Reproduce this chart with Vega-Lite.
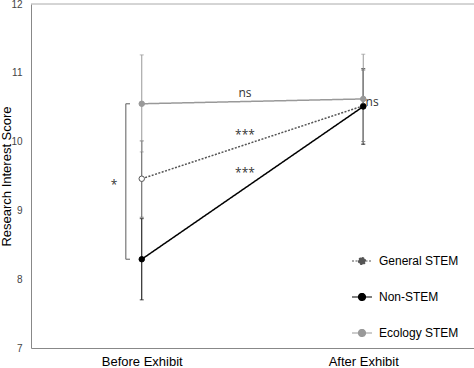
{
  "$schema": "https://vega.github.io/schema/vega-lite/v6.json",
  "width": 443,
  "height": 344,
  "autosize": {"type": "none"},
  "padding": {"left": 31, "top": 4, "right": 0, "bottom": 20},
  "config": {"view": {"stroke": null}, "font": "Liberation Sans"},
  "datasets": {
    "means": [
      {"series": "General STEM", "t": 0, "score": 9.46},
      {"series": "General STEM", "t": 1, "score": 10.52},
      {"series": "Non-STEM", "t": 0, "score": 8.29},
      {"series": "Non-STEM", "t": 1, "score": 10.51},
      {"series": "Ecology STEM", "t": 0, "score": 10.55},
      {"series": "Ecology STEM", "t": 1, "score": 10.62}
    ],
    "errs": [
      {"series": "Non-STEM", "t": 0, "lo": 7.7, "hi": 8.88},
      {"series": "Non-STEM", "t": 1, "lo": 9.96, "hi": 11.06},
      {"series": "General STEM", "t": 0, "lo": 8.9, "hi": 10.01},
      {"series": "General STEM", "t": 1, "lo": 10.0, "hi": 11.04},
      {"series": "Ecology STEM", "t": 0, "lo": 9.85, "hi": 11.26},
      {"series": "Ecology STEM", "t": 1, "lo": 9.97, "hi": 11.27}
    ],
    "notes": [
      {"label": "ns", "x": 0.466, "y": 10.7, "align": "center"},
      {"label": "***", "x": 0.466, "y": 10.1, "align": "center"},
      {"label": "***", "x": 0.466, "y": 9.55, "align": "center"},
      {"label": "ns", "x": 1.04, "y": 10.58, "align": "left"},
      {"label": "*", "x": -0.125, "y": 9.37, "align": "center"}
    ],
    "bracket": [
      {"x": -0.072, "x2": -0.072, "y": 8.29, "y2": 10.55},
      {"x": -0.072, "x2": -0.053, "y": 10.55, "y2": 10.55},
      {"x": -0.072, "x2": -0.053, "y": 8.29, "y2": 8.29}
    ],
    "top": [{"y": 12}]
  },
  "layer": [
    {
      "data": {"name": "top"},
      "mark": {"type": "rule", "color": "#aaaaaa", "strokeWidth": 1},
      "encoding": {
        "y": {"field": "y", "type": "quantitative", "title": "Research Interest Score", "scale": {"domain": [7, 12]}}
      }
    },
    {
      "data": {"name": "errs"},
      "mark": {"type": "errorbar", "ticks": {"size": 4}, "thickness": 1},
      "encoding": {
        "x": {"field": "t", "type": "quantitative", "title": null},
        "y": {"field": "lo", "type": "quantitative", "title": "Research Interest Score"},
        "y2": {"field": "hi"},
        "color": {"field": "series", "type": "nominal"}
      }
    },
    {
      "data": {"name": "means"},
      "mark": {"type": "line", "strokeWidth": 1.5},
      "encoding": {
        "x": {
          "field": "t", "type": "quantitative",
          "scale": {"domain": [-0.5, 1.5], "nice": false, "zero": false},
          "axis": {
            "values": [0, 1],
            "labelExpr": "datum.value == 0 ? 'Before Exhibit' : 'After Exhibit'",
            "title": null, "grid": false, "ticks": false,
            "domainColor": "#888888", "labelColor": "#000000",
            "labelFontSize": 13, "labelPadding": 7
          }
        },
        "y": {
          "field": "score", "type": "quantitative",
          "scale": {"domain": [7, 12], "nice": false, "zero": false},
          "axis": {
            "values": [7, 8, 9, 10, 11, 12], "format": "d",
            "title": "Research Interest Score", "titleFontSize": 13,
            "titleFontWeight": "normal", "titleColor": "#000000", "titlePadding": -3,
            "grid": false, "ticks": false, "domainColor": "#888888",
            "labelColor": "#444444", "labelFontSize": 10, "labelPadding": 9
          }
        },
        "color": {
          "field": "series", "type": "nominal",
          "scale": {"domain": ["General STEM", "Non-STEM", "Ecology STEM"], "range": ["#555555", "#000000", "#999999"]},
          "legend": {
            "title": null, "orient": "none", "legendX": 320, "legendY": 246,
            "labelFontSize": 12, "labelColor": "#000000", "labelOffset": 6,
            "rowPadding": 19,
            "symbolType": "M-1,0L-0.35,0M0.35,0L1,0M-0.35,0A0.35,0.35,0,1,0,0.35,0A0.35,0.35,0,1,0,-0.35,0Z",
            "symbolSize": 400, "symbolStrokeWidth": 1.2,
            "encode": {"symbols": {"update": {
              "fill": {"signal": "indexof(datum.label || '', 'General') >= 0 ? '#ffffff' : scale('color', datum.value)"}
            }}}
          }
        },
        "strokeDash": {
          "field": "series", "type": "nominal",
          "scale": {"domain": ["General STEM", "Non-STEM", "Ecology STEM"], "range": [[2, 1.5], [1, 0], [1, 0]]}
        }
      }
    },
    {
      "data": {"name": "means"},
      "mark": {"type": "point", "shape": "circle", "size": 30, "strokeWidth": 1, "opacity": 1},
      "encoding": {
        "x": {"field": "t", "type": "quantitative"},
        "y": {"field": "score", "type": "quantitative"},
        "stroke": {
          "field": "series", "type": "nominal",
          "scale": {"domain": ["General STEM", "Non-STEM", "Ecology STEM"], "range": ["#555555", "#000000", "#999999"]},
          "legend": null
        },
        "fill": {
          "field": "series", "type": "nominal",
          "scale": {"domain": ["General STEM", "Non-STEM", "Ecology STEM"], "range": ["#ffffff", "#000000", "#999999"]},
          "legend": null
        }
      }
    },
    {
      "data": {"name": "bracket"},
      "mark": {"type": "rule", "color": "#777777", "strokeWidth": 1.2},
      "encoding": {
        "x": {"field": "x", "type": "quantitative"},
        "x2": {"field": "x2"},
        "y": {"field": "y", "type": "quantitative"},
        "y2": {"field": "y2"}
      }
    },
    {
      "data": {"name": "notes"},
      "mark": {"type": "text", "fontSize": 12, "color": "#333333", "baseline": "middle", "font": "Open Sans"},
      "encoding": {
        "x": {"field": "x", "type": "quantitative"},
        "y": {"field": "y", "type": "quantitative"},
        "text": {"field": "label"},
        "align": {"field": "align", "type": "nominal", "scale": null}
      }
    }
  ]
}
